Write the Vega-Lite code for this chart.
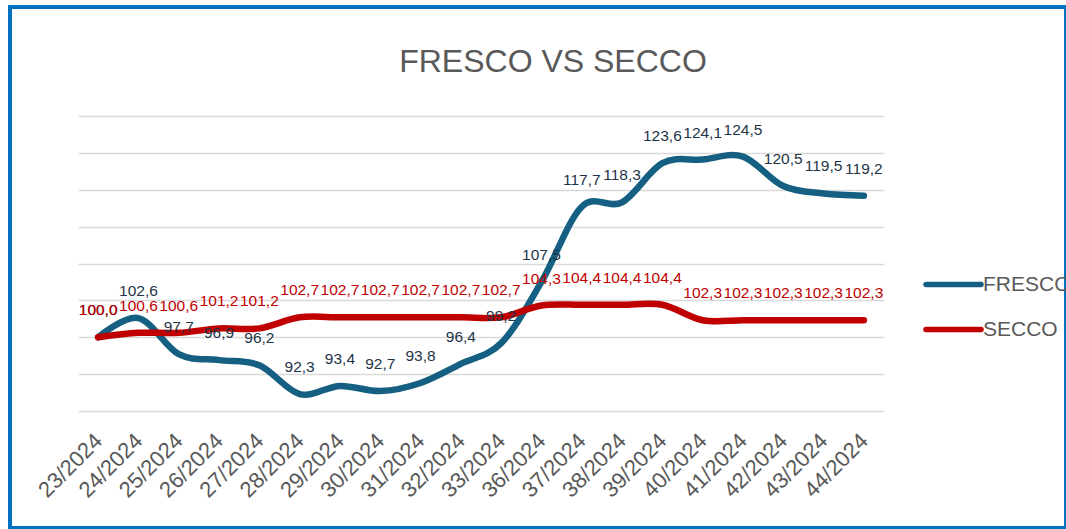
{
  "$schema": "https://vega.github.io/schema/vega-lite/v6.json",
  "autosize": {"type": "none"},
  "padding": {"left": 10, "top": 7, "right": 0, "bottom": 1},
  "width": 1056,
  "height": 521,
  "background": "#FFFFFF",
  "title": {
    "text": "FRESCO VS SECCO",
    "font": "Liberation Sans",
    "fontSize": 32,
    "fontWeight": "normal",
    "color": "#595959",
    "anchor": "middle",
    "frame": "group",
    "baseline": "alphabetic",
    "offset": -97,
    "dx": 15
  },
  "config": {
    "locale": {"number": {"decimal": ",", "thousands": ".", "grouping": [3], "currency": ["", " €"]}},
    "view": {"stroke": "#0070C0", "strokeWidth": 4},
    "font": "Liberation Sans"
  },
  "data": {
    "values": [
      {"semana": "23/2024", "serie": "FRESCO", "valor": 100.0},
      {"semana": "24/2024", "serie": "FRESCO", "valor": 102.6},
      {"semana": "25/2024", "serie": "FRESCO", "valor": 97.7},
      {"semana": "26/2024", "serie": "FRESCO", "valor": 96.9},
      {"semana": "27/2024", "serie": "FRESCO", "valor": 96.2},
      {"semana": "28/2024", "serie": "FRESCO", "valor": 92.3},
      {"semana": "29/2024", "serie": "FRESCO", "valor": 93.4},
      {"semana": "30/2024", "serie": "FRESCO", "valor": 92.7},
      {"semana": "31/2024", "serie": "FRESCO", "valor": 93.8},
      {"semana": "32/2024", "serie": "FRESCO", "valor": 96.4},
      {"semana": "33/2024", "serie": "FRESCO", "valor": 99.2},
      {"semana": "36/2024", "serie": "FRESCO", "valor": 107.5},
      {"semana": "37/2024", "serie": "FRESCO", "valor": 117.7},
      {"semana": "38/2024", "serie": "FRESCO", "valor": 118.3},
      {"semana": "39/2024", "serie": "FRESCO", "valor": 123.6},
      {"semana": "40/2024", "serie": "FRESCO", "valor": 124.1},
      {"semana": "41/2024", "serie": "FRESCO", "valor": 124.5},
      {"semana": "42/2024", "serie": "FRESCO", "valor": 120.5},
      {"semana": "43/2024", "serie": "FRESCO", "valor": 119.5},
      {"semana": "44/2024", "serie": "FRESCO", "valor": 119.2},
      {"semana": "23/2024", "serie": "SECCO", "valor": 100.0},
      {"semana": "24/2024", "serie": "SECCO", "valor": 100.6},
      {"semana": "25/2024", "serie": "SECCO", "valor": 100.6},
      {"semana": "26/2024", "serie": "SECCO", "valor": 101.2},
      {"semana": "27/2024", "serie": "SECCO", "valor": 101.2},
      {"semana": "28/2024", "serie": "SECCO", "valor": 102.7},
      {"semana": "29/2024", "serie": "SECCO", "valor": 102.7},
      {"semana": "30/2024", "serie": "SECCO", "valor": 102.7},
      {"semana": "31/2024", "serie": "SECCO", "valor": 102.7},
      {"semana": "32/2024", "serie": "SECCO", "valor": 102.7},
      {"semana": "33/2024", "serie": "SECCO", "valor": 102.7},
      {"semana": "36/2024", "serie": "SECCO", "valor": 104.3},
      {"semana": "37/2024", "serie": "SECCO", "valor": 104.4},
      {"semana": "38/2024", "serie": "SECCO", "valor": 104.4},
      {"semana": "39/2024", "serie": "SECCO", "valor": 104.4},
      {"semana": "40/2024", "serie": "SECCO", "valor": 102.3},
      {"semana": "41/2024", "serie": "SECCO", "valor": 102.3},
      {"semana": "42/2024", "serie": "SECCO", "valor": 102.3},
      {"semana": "43/2024", "serie": "SECCO", "valor": 102.3},
      {"semana": "44/2024", "serie": "SECCO", "valor": 102.3}
    ]
  },
  "encoding": {
    "x": {
      "field": "semana",
      "type": "ordinal",
      "sort": null,
      "scale": {"type": "point", "range": [68, 874], "padding": 0.5},
      "axis": {
        "title": null,
        "orient": "bottom",
        "offset": -117,
        "domain": false,
        "ticks": false,
        "tickSize": 0,
        "grid": false,
        "labelAngle": -45,
        "labelAlign": "right",
        "labelBaseline": "middle",
        "labelPadding": 26,
        "labelFontSize": 22,
        "labelColor": "#595959",
        "labelFont": "Liberation Sans"
      }
    },
    "y": {
      "field": "valor",
      "type": "quantitative",
      "scale": {"domain": [90, 130], "range": [404, 109], "nice": false, "zero": false},
      "axis": {
        "title": null,
        "values": [90, 95, 100, 105, 110, 115, 120, 125, 130],
        "labels": false,
        "ticks": false,
        "domain": false,
        "grid": true,
        "gridColor": "#D9D9D9",
        "gridWidth": 1.6
      }
    }
  },
  "layer": [
    {
      "mark": {"type": "line", "interpolate": "cardinal", "strokeWidth": 6.5, "strokeCap": "round", "strokeJoin": "round"},
      "encoding": {
        "color": {
          "field": "serie",
          "type": "nominal",
          "scale": {"domain": ["FRESCO", "SECCO"], "range": ["#156082", "#C00000"]},
          "legend": {
            "title": null,
            "orient": "none",
            "legendX": 913,
            "legendY": 247,
            "padding": 0,
            "symbolType": "stroke",
            "symbolSize": 3025,
            "symbolStrokeWidth": 5.5,
            "labelFontSize": 21,
            "labelColor": "#595959",
            "labelFont": "Liberation Sans",
            "labelOffset": -1,
            "rowPadding": 3,
            "encode": {"symbols": {"update": {"strokeCap": {"value": "round"}}}}
          }
        }
      }
    },
    {
      "mark": {"type": "text", "fontSize": 15.5, "dy": -27, "align": "center", "baseline": "middle", "font": "Liberation Sans"},
      "encoding": {
        "text": {"field": "valor", "type": "quantitative", "format": ".1f"},
        "color": {
          "condition": {"test": "datum.serie === 'SECCO'", "value": "#C00000"},
          "value": "#1E3448"
        }
      }
    }
  ]
}
